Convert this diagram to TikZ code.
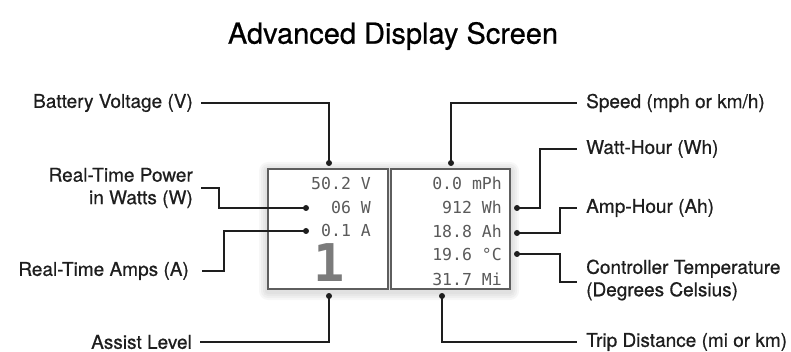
\documentclass[tikz,border=0pt]{standalone}
\usepackage{fontspec}
\setmainfont{TeX Gyre Heros}
\newfontfamily\medfont{TeX Gyre Heros}[FakeBold=0.6]
\newfontfamily\lcdfont{DejaVu Sans Mono}
\usetikzlibrary{positioning, calc}
\definecolor{lcdgray}{HTML}{5A5A5A}
\definecolor{lcdframe}{HTML}{5E5E5E}
\definecolor{leadblack}{HTML}{1E1E1E}

\tikzset{
  lbl/.style={font=\medfont\fontsize{19}{22.5}\selectfont, text=leadblack, inner sep=0pt},
  lead/.style={leadblack, line width=1.3pt},
  pin/.style={fill=leadblack, radius=3pt},
  lcd/.style={font=\lcdfont\fontsize{16.5}{18}\selectfont, text=lcdgray, inner sep=0pt, anchor=east},
  panel/.style={draw=lcdframe, line width=2.4pt, fill=white}
}

\begin{document}
\begin{tikzpicture}[x=1pt, y=-1pt]
      \useasboundingbox (0,0) rectangle (791,352);
      \node[font=\medfont\fontsize{29}{32}\selectfont, text=black] (title) at (393,36) {Advanced Display Screen};

      % display screen, soft shadow first
      \foreach \g in {9,7,5,3}
        \fill[black, opacity=0.03, rounded corners=\g pt] (268-\g,169-\g+2) rectangle (510+\g,289+\g+2);
      \draw[panel] (268,169) rectangle (388,289);
      \draw[panel] (391,169) rectangle (510,289);
      \node[lcd] (volt) at (371,183) {50.2 V};
      \node[lcd] (watt) at (371,207) {06 W};
      \node[lcd] (amp) at (371,230) {0.1 A};
      \node[font=\lcdfont\bfseries\fontsize{52}{52}\selectfont, text=lcdgray!80, inner sep=0pt] (lvl) at (329,263) {1};
      \node[lcd] (spd) at (502,183) {0.0 mPh};
      \node[lcd] (wh) at (502,207) {912 Wh};
      \node[lcd] (ah) at (502,231) {18.8 Ah};
      \node[lcd] (tmp) at (502,254) {19.6 °C};
      \node[lcd] (dist) at (502,279) {31.7 Mi};

      % pins
      \coordinate (pV) at (329,163);
      \coordinate (pW) at (306,208);
      \coordinate (pA) at (306,231);
      \coordinate (pL) at (329,296);
      \coordinate (pS) at (451,163);
      \coordinate (pWh) at (517,208);
      \coordinate (pAh) at (517,233);
      \coordinate (pC) at (517,254);
      \coordinate (pT) at (442,296);
      \foreach \p in {pV, pW, pA, pL, pS, pWh, pAh, pC, pT}
        \fill[pin] (\p) circle;

      % left labels
      \node[lbl, anchor=east] (battLbl) at (193,103) {Battery Voltage (V)};
      \node[lbl, anchor=east, align=right] (powLbl) at (193,188) {Real-Time Power\\in Watts (W)};
      \node[lbl, anchor=east] (ampLbl) at (189,271) {Real-Time Amps (A)};
      \node[lbl, anchor=east] (lvlLbl) at (192,342) {Assist Level};

      % right labels
      \node[lbl, anchor=west] (spdLbl) at (586,103) {Speed (mph or km/h)};
      \node[lbl, anchor=west] (whLbl) at (586,149) {Watt-Hour (Wh)};
      \node[lbl, anchor=west] (ahLbl) at (586,208) {Amp-Hour (Ah)};
      \node[lbl, anchor=west, align=left] (tmpLbl) at (586,280) {Controller Temperature\\(Degrees Celsius)};
      \node[lbl, anchor=west] (tripLbl) at (586,342) {Trip Distance (mi or km)};

      % leaders
      \draw[lead, shorten <=8pt] (battLbl.east) -| (pV);
      \draw[lead, shorten <=8pt] (powLbl.east) -- ++(26,0) |- (pW);
      \draw[lead, shorten <=13pt] (ampLbl.east) -- ++(35,0) |- (pA);
      \draw[lead, shorten <=8pt] (lvlLbl.east) -| (pL);
      \draw[lead, shorten >=9pt] (pS) |- (spdLbl.west);
      \draw[lead, shorten >=9pt] (pWh) -- ++(23,0) |- (whLbl.west);
      \draw[lead, shorten >=9pt] (pAh) -- ++(43,0) |- (ahLbl.west);
      \draw[lead, shorten >=9pt] (pC) -- ++(43,0) |- ([yshift=-2pt]tmpLbl.west);
      \draw[lead, shorten >=9pt] (pT) |- (tripLbl.west);
    \end{tikzpicture}
\end{document}
